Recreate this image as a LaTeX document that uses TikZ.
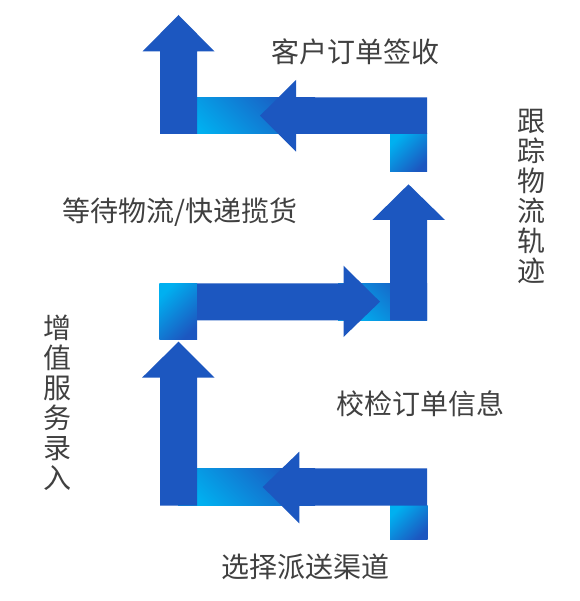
\documentclass[tikz,border=0pt]{standalone}
\usepackage{fontspec}
\setmainfont{Noto Sans CJK SC}
\definecolor{arrowblue}{RGB}{28,87,192}
\definecolor{lightcyan}{RGB}{0,176,240}
\definecolor{txtgray}{RGB}{64,64,64}
\tikzset{
  arrowshape/.style={fill=arrowblue},
  bandshade/.style={left color=lightcyan,right color=arrowblue,shading angle=135},
  cornershade/.style={left color=lightcyan,right color=arrowblue,shading angle=45},
  lbl/.style={font=\fontsize{28}{30}\selectfont,text=txtgray,inner sep=0pt},
  vlbl/.style={lbl,align=center}
}
\begin{document}
\begin{tikzpicture}[x=1pt,y=-1pt]
\useasboundingbox (0,0) rectangle (579,601);
\fill[white] (0,0) rectangle (579,601);
% gradient bands
\shade[bandshade] (178,97.3) rectangle (315,134);
\shade[bandshade] (338,283.3) rectangle (427,320.3);
\shade[bandshade] (178,468.3) rectangle (315,505.7);
% corner squares
\shade[cornershade] (390,134) rectangle (427,171.7);
\shade[cornershade] (159.3,283.3) rectangle (197,339.3);
\shade[cornershade] (390,505.7) rectangle (427.5,539);
% top group
\fill[arrowshape] (160,134) -- (160,51.5) -- (142.5,51.5) -- (178.5,15) -- (214.5,51.5) -- (197,51.5) -- (197,134) -- cycle;
\fill[arrowshape] (427,97.3) -- (296,97.3) -- (296,80) -- (260,115.7) -- (296,151.7) -- (296,134) -- (427,134) -- cycle;
% middle group
\fill[arrowshape] (197,283.3) -- (343.5,283.3) -- (343.5,265.7) -- (380,301.7) -- (343.5,337) -- (343.5,320.3) -- (197,320.3) -- cycle;
\fill[arrowshape] (390,320.3) -- (390,220) -- (372.3,220) -- (408.5,184.3) -- (445,220) -- (427,220) -- (427,320.3) -- cycle;
% bottom group
\fill[arrowshape] (160,505.7) -- (160,377.7) -- (142,377.7) -- (178.5,341.7) -- (214.5,377.7) -- (197,377.7) -- (197,505.7) -- cycle;
\fill[arrowshape] (427,468.3) -- (299.3,468.3) -- (299.3,451.7) -- (262.7,487) -- (299.3,523.3) -- (299.3,505.7) -- (427,505.7) -- cycle;
% labels
\node[lbl] (t1) at (355.5,52) {客户订单签收};
\node[lbl] (t2) at (180,211.7) {等待物流/快递揽货};
\node[lbl] (t3) at (420,403.3) {校检订单信息};
\node[lbl] (t4) at (305,566.7) {选择派送渠道};
\node[vlbl] (t5) at (531.7,196.5) {跟\\踪\\物\\流\\轨\\迹};
\node[vlbl] (t6) at (57.3,402.5) {增\\值\\服\\务\\录\\入};
\end{tikzpicture}
\end{document}
